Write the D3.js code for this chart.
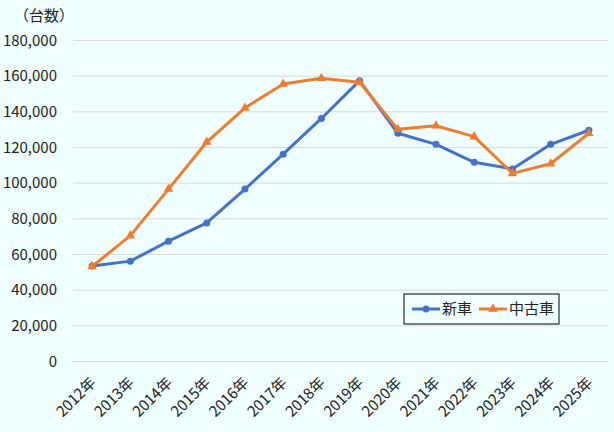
<!DOCTYPE html>
<html>
<head>
<meta charset="utf-8">
<script src="https://cdn.jsdelivr.net/npm/d3@7"></script>
<style>
  body { margin: 0; background: #F0FFFF; }
  text { font-family: "Noto Sans CJK JP", "Noto Sans", sans-serif; fill: #222; }
</style>
</head>
<body>
<div id="chart"></div>
<script>
var width = 614, height = 432
var margin = { top: 40, right: 6, bottom: 71, left: 73 }

// data
var years = ["2012年", "2013年", "2014年", "2015年", "2016年", "2017年", "2018年",
  "2019年", "2020年", "2021年", "2022年", "2023年", "2024年", "2025年"]
var newCars = [53300, 56000, 67200, 77400, 96400, 116000, 136000,
  157200, 127700, 121500, 111400, 107700, 121500, 129400]
var usedCars = [53000, 70300, 96400, 122800, 141900, 155300, 158500,
  156300, 129900, 131900, 125800, 105200, 110600, 127700]
var yTicks = [0, 20000, 40000, 60000, 80000, 100000, 120000, 140000, 160000, 180000]
var seriesNames = ["新車", "中古車"]

var svg = d3.select("#chart")
  .append("svg")
  .attr("width", width)
  .attr("height", height)

svg.append("rect")
  .attr("width", width)
  .attr("height", height)
  .attr("fill", "#F0FFFF")

var xScale = d3.scaleBand()
  .domain(years)
  .range([margin.left, width - margin.right])

var yScale = d3.scaleLinear()
  .domain([0, 180000])
  .range([height - margin.bottom, margin.top])

// grid
svg.append("g")
  .attr("transform", `translate(${margin.left},0)`)
  .call(d3.axisLeft(yScale)
    .tickValues(yTicks)
    .tickSize(-(width - margin.left - margin.right))
    .tickFormat(""))
  .call(g => g.select(".domain").remove())
  .selectAll("line")
  .attr("stroke", "#D9D9D9")

// y axis labels
svg.append("g")
  .attr("transform", `translate(${margin.left - 13},0)`)
  .call(d3.axisLeft(yScale)
    .tickValues(yTicks)
    .tickSize(0)
    .tickFormat(d3.format(",")))
  .call(g => g.select(".domain").remove())
  .selectAll("text")
  .attr("font-size", "15px")
  .attr("dy", "0.34em")

svg.append("text")
  .attr("x", 14)
  .attr("y", 21)
  .attr("font-size", "15px")
  .text("（台数）")

// x axis labels
svg.append("g")
  .attr("transform", `translate(0,${height - margin.bottom})`)
  .call(d3.axisBottom(xScale).tickSize(0))
  .call(g => g.select(".domain").remove())
  .selectAll("text")
  .attr("font-size", "15px")
  .attr("text-anchor", "end")
  .attr("y", 0)
  .attr("transform", "translate(1,19) rotate(-45)")
  .attr("dy", "0.35em")

var line = d3.line()
  .x((d, i) => xScale(years[i]) + xScale.bandwidth() / 2)
  .y(d => yScale(d))

var colors = ["#4472C4", "#ED7D31"]

// lines
svg.append("path")
  .datum(newCars)
  .attr("d", line)
  .attr("fill", "none")
  .attr("stroke", colors[0])
  .attr("stroke-width", 3)
  .attr("stroke-linejoin", "round")

svg.selectAll(".dot-new")
  .data(newCars)
  .enter()
  .append("circle")
  .attr("cx", (d, i) => xScale(years[i]) + xScale.bandwidth() / 2)
  .attr("cy", d => yScale(d))
  .attr("r", 3.5)
  .attr("fill", colors[0])

svg.append("path")
  .datum(usedCars)
  .attr("d", line)
  .attr("fill", "none")
  .attr("stroke", colors[1])
  .attr("stroke-width", 3)
  .attr("stroke-linejoin", "round")

var tri = d3.symbol().type(d3.symbolTriangle).size(40)
svg.selectAll(".dot-used")
  .data(usedCars)
  .enter()
  .append("path")
  .attr("d", tri)
  .attr("transform", (d, i) => `translate(${xScale(years[i]) + xScale.bandwidth() / 2},${yScale(d)})`)
  .attr("fill", colors[1])

// legend
var legend = svg.append("g")
  .attr("transform", "translate(404,294)")

legend.append("rect")
  .attr("width", 155)
  .attr("height", 30)
  .attr("fill", "#F0FFFF")
  .attr("stroke", "#000")
  .attr("stroke-width", 1)

var items = [{ x: 8, name: seriesNames[0], c: colors[0], sym: "circle" },
  { x: 75, name: seriesNames[1], c: colors[1], sym: "tri" }]

items.forEach(function(it) {
  legend.append("line")
    .attr("x1", it.x)
    .attr("x2", it.x + 28)
    .attr("y1", 15)
    .attr("y2", 15)
    .attr("stroke", it.c)
    .attr("stroke-width", 3)
  if (it.sym === "circle") {
    legend.append("circle")
      .attr("cx", it.x + 14)
      .attr("cy", 15)
      .attr("r", 3.5)
      .attr("fill", it.c)
  } else {
    legend.append("path")
      .attr("d", tri)
      .attr("transform", `translate(${it.x + 14},15)`)
      .attr("fill", it.c)
  }
  legend.append("text")
    .attr("x", it.x + 30)
    .attr("y", 15)
    .attr("dy", "0.35em")
    .attr("font-size", "15px")
    .text(it.name)
})
</script>
</body>
</html>
